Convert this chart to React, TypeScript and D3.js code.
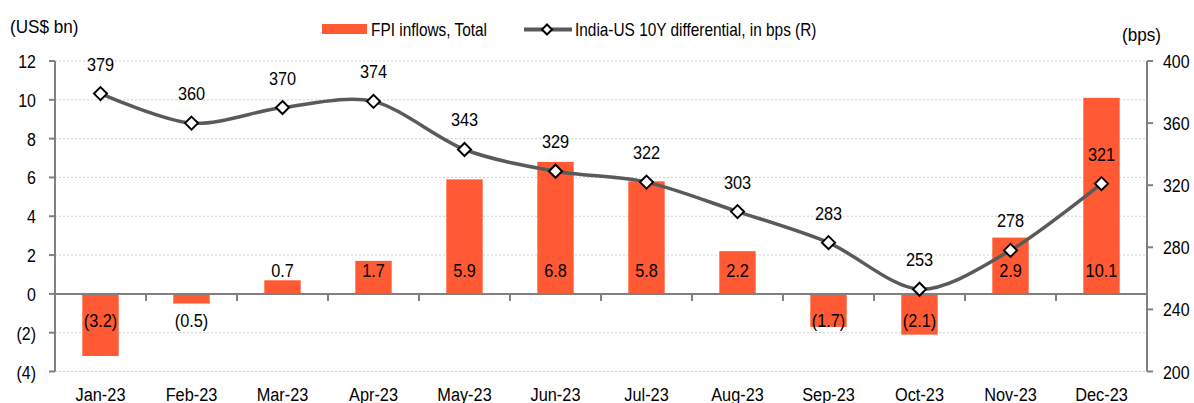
import React from "react";
import * as d3 from "d3";

const categories = ["Jan-23","Feb-23","Mar-23","Apr-23","May-23","Jun-23","Jul-23","Aug-23","Sep-23","Oct-23","Nov-23","Dec-23"];
const fpiInflows = [-3.2,-0.5,0.7,1.7,5.9,6.8,5.8,2.2,-1.7,-2.1,2.9,10.1];
const yieldDiff = [379,360,370,374,343,329,322,303,283,253,278,321];
const leftTicks = [-4,-2,0,2,4,6,8,10,12];
const rightTicks = [200,240,280,320,360,400];

const W = 1194, H = 403;
const FONT = "'Liberation Sans', Arial, sans-serif";
const BAR = "#FF5A33";
const AXIS = "#808080";
const LINE = "#5A5A5A";

function T({ x, y, anchor = "middle", size = 19, sx = 0.86, children }: any) {
  return (
    <text transform={`translate(${x},${y}) scale(${sx},1)`} textAnchor={anchor}
      fontFamily={FONT} fontSize={size} fill="#000">{children}</text>
  );
}

const fmt = (v: number) => v < 0 ? `(${Math.abs(v).toFixed(1)})` : v.toFixed(1);
const fmtL = (v: number) => v < 0 ? `(${Math.abs(v)})` : `${v}`;

export default function App() {
  const left = 55, right = 1147, top = 61, bottom = 371.5;
  const x = d3.scaleBand().domain(categories).range([left, right]).paddingInner(0.6).paddingOuter(0.3);
  const xc = (c: string) => (x(c) as number) + x.bandwidth() / 2;
  const step = (right - left) / categories.length;
  const y = d3.scaleLinear().domain([-4, 12]).range([bottom, top]);
  const y2 = d3.scaleLinear().domain([200, 400]).range([bottom, top]);
  const zeroY = y(0);
  const lineGen = d3.line<number>().x((_, i) => xc(categories[i])).y(d => y2(d)).curve(d3.curveCardinal.tension(0.1));
  const diamond = (cx: number, cy: number, r: number) => `M${cx},${cy - r}L${cx + r},${cy}L${cx},${cy + r}L${cx - r},${cy}Z`;

  return (
    <svg width={W} height={H} style={{ position: "absolute", left: 0, top: 0, background: "#fff" }}>
      <rect width={W} height={H} fill="#fff" />
      {leftTicks.filter(t => t !== 0).map(t => (
        <line key={t} x1={left} x2={right} y1={y(t)} y2={y(t)} stroke="#cfcfcf" strokeWidth={1} strokeDasharray="2,2" />
      ))}
      {fpiInflows.map((v, i) => {
        const c = categories[i];
        return <rect key={c} x={x(c)} width={x.bandwidth()} y={Math.min(y(v), zeroY)} height={Math.abs(y(v) - zeroY)} fill={BAR} />;
      })}
      <line x1={left} x2={right} y1={zeroY} y2={zeroY} stroke={AXIS} strokeWidth={2} />
      {d3.range(1, categories.length).map(i => (
        <line key={i} x1={left + step * i} x2={left + step * i} y1={zeroY} y2={zeroY + 7} stroke={AXIS} strokeWidth={2} />
      ))}
      <line x1={left} x2={left} y1={top} y2={bottom} stroke={AXIS} strokeWidth={2} />
      {leftTicks.map(t => (
        <g key={t}>
          <line x1={left - 6} x2={left} y1={y(t)} y2={y(t)} stroke={AXIS} strokeWidth={2} />
          <T x={36} y={y(t) + 7} anchor="end" sx={0.84}>{fmtL(t)}</T>
        </g>
      ))}
      <line x1={right} x2={right} y1={top} y2={bottom} stroke={AXIS} strokeWidth={2} />
      {rightTicks.map(t => (
        <g key={t}>
          <line x1={right} x2={right + 6} y1={y2(t)} y2={y2(t)} stroke={AXIS} strokeWidth={2} />
          <T x={1163} y={y2(t) + 7} anchor="start" sx={0.84}>{t}</T>
        </g>
      ))}
      {fpiInflows.map((v, i) => (
        <T key={i} x={xc(categories[i])} y={v >= 0 ? zeroY - 17 : zeroY + 33}>{fmt(v)}</T>
      ))}
      <path d={lineGen(yieldDiff) || ""} fill="none" stroke={LINE} strokeWidth={3.5} />
      {yieldDiff.map((v, i) => (
        <path key={i} d={diamond(xc(categories[i]), y2(v), 6.5)} fill="#fff" stroke="#000" strokeWidth={2} />
      ))}
      {yieldDiff.map((v, i) => (
        <T key={i} x={xc(categories[i])} y={y2(v) - 23}>{v}</T>
      ))}
      {categories.map(c => (
        <T key={c} x={xc(c)} y={401}>{c}</T>
      ))}
      <T x={10} y={33} anchor="start" sx={0.9}>(US$ bn)</T>
      <T x={1122} y={41} anchor="start" sx={0.9}>(bps)</T>
      <rect x={322} y={24} width={45} height={10} fill={BAR} />
      <T x={371} y={35.5} anchor="start" size={17.5} sx={0.88}>FPI inflows, Total</T>
      <line x1={524} x2={572} y1={29.5} y2={29.5} stroke={LINE} strokeWidth={4} />
      <path d={diamond(547, 29.5, 5)} fill="#fff" stroke="#000" strokeWidth={2} />
      <T x={575} y={35.5} anchor="start" size={17.5} sx={0.88}>India-US 10Y differential, in bps (R)</T>
    </svg>
  );
}
